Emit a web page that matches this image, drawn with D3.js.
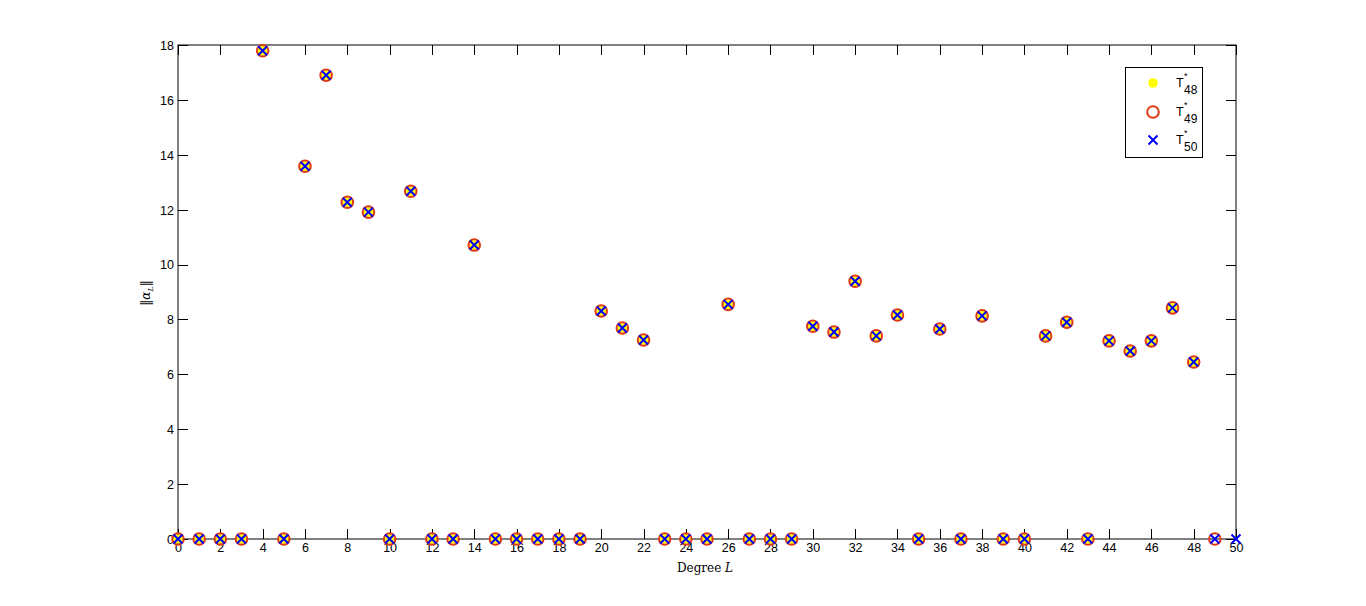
<!DOCTYPE html>
<html><head><meta charset="utf-8">
<script src="https://cdn.jsdelivr.net/npm/d3@7"></script>
<style>body{margin:0;background:#fff}svg{display:block}</style>
</head><body>
<script>
// Data: ||alpha_L|| by degree L for three designs
const degrees = d3.range(0, 51);
const valuesT50 = [0,0,0,0,17.79,0,13.58,16.9,12.27,11.91,0,12.67,0,0,10.71,0,0,0,0,0,
  8.31,7.69,7.25,0,0,0,8.55,0,0,0,7.75,7.54,9.39,7.40,8.16,0,7.65,0,8.13,0,0,
  7.40,7.90,0,7.22,6.85,7.22,8.42,6.45,0,0];
const valuesT49 = valuesT50.slice(0, 50);
const valuesT48 = valuesT50.slice(0, 49);
const xTicks = d3.range(0, 51, 2);
const yTicks = d3.range(0, 19, 2);
const legendLabels = [["T","48"],["T","49"],["T","50"]];

const W = 1366, H = 606;
const m = {left:178, right:1236, top:45, bottom:539};
const svg = d3.select("body").append("svg").attr("width", W).attr("height", H);
const x = d3.scaleLinear().domain([0,50]).range([m.left, m.right]);
const y = d3.scaleLinear().domain([0,18]).range([m.bottom, m.top]);

const tickFont = "Liberation Sans, Arial, sans-serif";
svg.append("rect").attr("x", m.left).attr("y", m.top).attr("width", m.right-m.left).attr("height", m.bottom-m.top)
  .attr("fill","none").attr("stroke","#000").attr("stroke-width",1);

const tl = 10;
const gx = svg.append("g").attr("transform",`translate(0,${m.bottom})`)
  .call(d3.axisBottom(x).tickValues(xTicks).tickSize(-tl).tickPadding(4).tickFormat(d3.format("d")));
const gxt = svg.append("g").attr("transform",`translate(0,${m.top})`)
  .call(d3.axisTop(x).tickValues(xTicks).tickSize(-tl).tickFormat(""));
const gy = svg.append("g").attr("transform",`translate(${m.left},0)`)
  .call(d3.axisLeft(y).tickValues(yTicks).tickSize(-tl).tickPadding(4).tickFormat(d3.format("d")));
const gyr = svg.append("g").attr("transform",`translate(${m.right},0)`)
  .call(d3.axisRight(y).tickValues(yTicks).tickSize(-tl).tickFormat(""));
[gx,gxt,gy,gyr].forEach(g=>{
  g.select(".domain").remove();
  g.selectAll(".tick line").attr("stroke","#000").attr("shape-rendering","crispEdges");
  g.selectAll("text").attr("font-family", tickFont).attr("font-size", 12.5).attr("fill","#000");
});
gx.selectAll("text").attr("dy","0.75em");
gy.selectAll("text").attr("dy","0.35em");

svg.append("text").attr("x", 705).attr("y", 572).attr("text-anchor","middle")
  .attr("font-family","DejaVu Serif, Liberation Serif, serif").attr("font-size",12)
  .html('Degree <tspan font-style="italic">L</tspan>');
const yl = svg.append("text").attr("transform","translate(150,293) rotate(-90)").attr("text-anchor","middle")
  .attr("font-family","DejaVu Serif, Liberation Serif, serif").attr("font-size",12);
yl.append("tspan").text("\u2016");
yl.append("tspan").attr("font-style","italic").text("\u03b1");
yl.append("tspan").attr("font-style","italic").attr("font-size",8).attr("dy",3).text("L");
yl.append("tspan").attr("dy",-3).text("\u2016");

const red = "#e03a12";
function drawX(sel, s){
  sel.append("path").attr("d",`M${-s},${-s}L${s},${s}M${-s},${s}L${s},${-s}`)
    .attr("stroke","#0000ff").attr("stroke-width",2).attr("fill","none");
}
svg.append("g").selectAll("circle").data(valuesT48).join("circle")
  .attr("cx",(d,i)=>x(degrees[i])).attr("cy",d=>y(d)).attr("r",4.8).attr("fill","#ffff00");
svg.append("g").selectAll("circle").data(valuesT49).join("circle")
  .attr("cx",(d,i)=>x(degrees[i])).attr("cy",d=>y(d)).attr("r",5.8).attr("fill","none")
  .attr("stroke",red).attr("stroke-width",2);
svg.append("g").selectAll("g").data(valuesT50).join("g")
  .attr("transform",(d,i)=>`translate(${x(degrees[i])},${y(d)})`).each(function(){drawX(d3.select(this),4.5);});

// legend
const lg = svg.append("g");
lg.append("rect").attr("x",1125.5).attr("y",67.5).attr("width",77).attr("height",90)
  .attr("fill","#fff").attr("stroke","#000").attr("stroke-width",1);
const ly = [83, 112, 140];
lg.append("circle").attr("cx",1153).attr("cy",ly[0]).attr("r",4.8).attr("fill","#ffff00");
lg.append("circle").attr("cx",1153).attr("cy",ly[1]).attr("r",5.8).attr("fill","none").attr("stroke",red).attr("stroke-width",2);
drawX(lg.append("g").attr("transform",`translate(1153,${ly[2]})`), 4.5);
legendLabels.forEach((lab,i)=>{
  const g = lg.append("g").attr("font-family",tickFont).attr("fill","#000");
  g.append("text").attr("x",1176).attr("y",ly[i]+4).attr("font-size",12.5).text(lab[0]);
  g.append("text").attr("x",1184).attr("y",ly[i]-4).attr("font-size",9).text("*");
  g.append("text").attr("x",1184).attr("y",ly[i]+11).attr("font-size",12).text(lab[1]);
});
</script>
</body></html>
